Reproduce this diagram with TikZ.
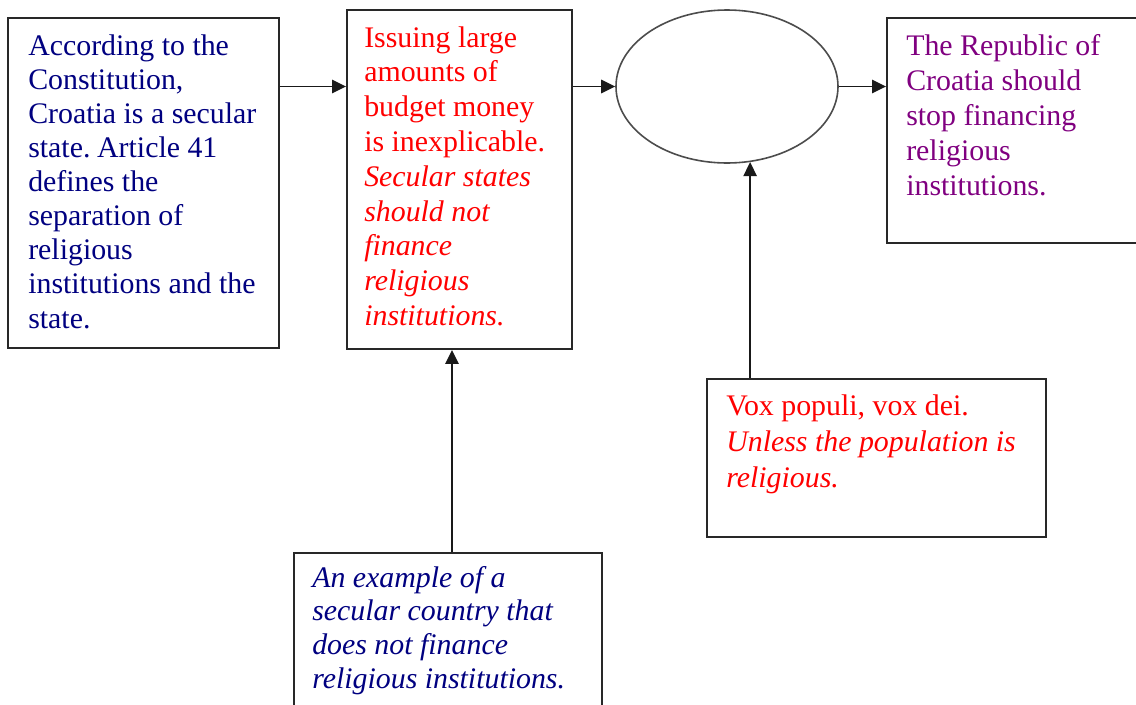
\documentclass[tikz,border=0pt]{standalone}
\usepackage{fontspec}
\setmainfont{Liberation Serif}
\usetikzlibrary{arrows.meta,shapes.geometric,fit}
\definecolor{navytext}{RGB}{0,0,128}
\definecolor{redtext}{RGB}{255,0,0}
\definecolor{purpletext}{RGB}{128,0,128}
\definecolor{framegray}{RGB}{40,40,40}
% paragraph of fixed lines, baseline of the first line is the node base
\newcommand\boxlines[2]{\parbox[t]{340pt}{\raggedright\fontsize{22.4pt}{#1}\selectfont #2}}
\begin{document}
\begin{tikzpicture}[x=0.75pt,y=-0.75pt,
  box/.style={draw=framegray,line width=1.4pt,inner sep=0pt},
  oval/.style={ellipse,draw=black!70,line width=1.2pt,inner sep=0pt,
               minimum width=166.5pt,minimum height=114.75pt},
  txt/.style={anchor=base west,inner sep=0pt},
  arr/.style={draw=black!90,line width=1.4pt,-{Triangle[length=10.5pt,width=10pt]}}]
\useasboundingbox (0,0) rectangle (1136,704);
\clip (0,0) rectangle (1136,704);

% boxes
\node[box,fit={(8,18) (279,348)}] (A) {};
\node[box,fit={(347,10) (572,349)}] (B) {};
\node[oval] (L) at (727,86.5) {};
\node[box,fit={(887,18) (1160,243)}] (D) {};
\node[box,fit={(707,379) (1046,537)}] (E) {};
\node[box,fit={(294,553) (602,730)}] (F) {};

% texts
\node[txt,text=navytext] (tA) at (28,55) {\boxlines{25.6pt}{%
According to the\\ Constitution,\\ Croatia is a secular\\ state.\hspace{5pt}Article 41\\
defines the\\ separation of\\ religious\\ institutions and the\\ state.}};
\node[txt,text=redtext] (tB) at (364,47) {\boxlines{26.1pt}{%
Issuing large\\ amounts of\\ budget money\\ is inexplicable.\\
\itshape Secular states\\ should not\\ finance\\ religious\\ institutions.}};
\node[txt,text=purpletext] (tD) at (906,55) {\boxlines{26.25pt}{%
The Republic of\\ Croatia should\\ stop financing\\ religious\\ institutions.}};
\node[txt,text=redtext] (tE) at (726,415) {\boxlines{27pt}{%
Vox populi, vox dei.\\ \itshape Unless the population is\\ religious.}};
\node[txt,text=navytext] (tF) at (312,587) {\boxlines{25.3pt}{%
\itshape An example of a\\ secular country that\\ does not finance\\ religious institutions.}};

% connectors
\draw[arr] (A.east |- L.west) -- (B.west |- L.west);
\draw[arr] (B.east |- L.west) -- (L.west);
\draw[arr] (L.east) -- (D.west |- L.east);
\draw[arr] ([xshift=3pt]F.north) -- ([xshift=3pt]F.north |- B.south);
\draw[arr] (L.-73 |- E.north) -- (L.-73);
\end{tikzpicture}
\end{document}
